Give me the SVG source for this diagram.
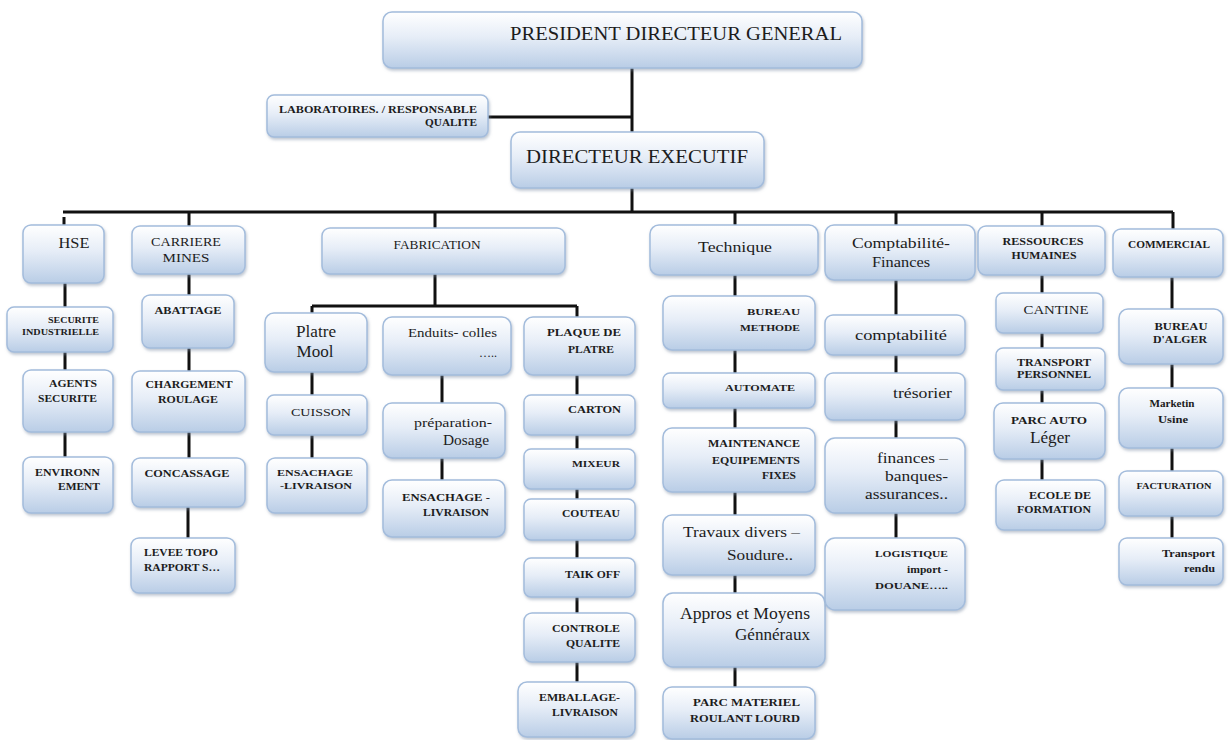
<svg xmlns="http://www.w3.org/2000/svg" width="1230" height="740" viewBox="0 0 1230 740">
<defs>
<linearGradient id="g" x1="0" y1="0" x2="0" y2="1">
<stop offset="0" stop-color="#ffffff"/>
<stop offset="0.45" stop-color="#e6edf7"/>
<stop offset="1" stop-color="#b9cde6"/>
</linearGradient>
<filter id="sh" x="-10%" y="-10%" width="130%" height="140%">
<feDropShadow dx="1" dy="2" stdDeviation="1.5" flood-color="#7d8da3" flood-opacity="0.5"/>
</filter>
<style>
.b{fill:url(#g);stroke:#a3bcdc;stroke-width:1.5;filter:url(#sh)}
.t{fill:#1c1c1c}
.s{fill:#1c1c1c;font-weight:bold}
.m{text-anchor:middle}
.e{text-anchor:end}
.c{stroke:#111;stroke-width:3;fill:none}
</style>
</defs>
<rect width="1230" height="740" fill="#ffffff"/>

<g id="connectors">
<path class="c" d="M632 68V132M488 117H632M632 188V212M63 212H1173"/>
<path class="c" d="M64 217V225M189 212V226M435 212V228M735 212V225M896 212V225M1042 212V226M1173 212V229"/>
<path class="c" d="M65 283V307M65 352V370M65 432V457"/>
<path class="c" d="M189 274V295M189 348V371M189 432V458M188 507V538"/>
<path class="c" d="M435 274V306M312 306H577M312 306V313M577 306V317"/>
<path class="c" d="M312 372V395M312 435V458"/>
<path class="c" d="M442 375V403M442 458V480"/>
<path class="c" d="M577 375V395M577 435V449M577 489V499M577 540V558M577 597V613M577 662V682"/>
<path class="c" d="M735 275V296M735 350V373M735 408V428M735 492V515M735 575V593M735 667V687"/>
<path class="c" d="M896 280V315M896 355V373M896 420V438M896 513V538"/>
<path class="c" d="M1042 275V293M1042 333V348M1042 390V403M1042 459V480"/>
<path class="c" d="M1172 277V309M1172 364V388M1172 448V471M1172 516V538"/>
</g>

<g font-family="Liberation Serif, Times New Roman, DejaVu Serif, serif">
<g id="pdg"><rect class="b" x="383" y="12" width="479" height="56" rx="9"/>
<text class="t m" x="676" y="40" font-size="18" textLength="332" lengthAdjust="spacingAndGlyphs">PRESIDENT DIRECTEUR GENERAL</text></g>

<g id="labo"><rect class="b" x="267" y="95" width="221" height="42" rx="7"/>
<text class="s e" x="477" y="113" font-size="10" textLength="198" lengthAdjust="spacingAndGlyphs">LABORATOIRES. / RESPONSABLE</text>
<text class="s e" x="477" y="126" font-size="10" textLength="52" lengthAdjust="spacingAndGlyphs">QUALITE</text></g>

<g id="de"><rect class="b" x="511" y="132" width="253" height="56" rx="9"/>
<text class="t m" x="637" y="163" font-size="19" textLength="222" lengthAdjust="spacingAndGlyphs">DIRECTEUR EXECUTIF</text></g>

<g id="hse"><rect class="b" x="23" y="225" width="81" height="58" rx="8"/>
<text class="t m" x="74" y="248" font-size="15" textLength="31" lengthAdjust="spacingAndGlyphs">HSE</text></g>

<g id="securite-industrielle"><rect class="b" x="7" y="307" width="106" height="45" rx="7"/>
<text class="s e" x="99" y="323" font-size="8" textLength="51" lengthAdjust="spacingAndGlyphs">SECURITE</text>
<text class="s e" x="99" y="335" font-size="8" textLength="77" lengthAdjust="spacingAndGlyphs">INDUSTRIELLE</text></g>

<g id="agents-securite"><rect class="b" x="23" y="370" width="90" height="62" rx="8"/>
<text class="s e" x="97" y="387" font-size="10" textLength="48" lengthAdjust="spacingAndGlyphs">AGENTS</text>
<text class="s e" x="97" y="402" font-size="10" textLength="59" lengthAdjust="spacingAndGlyphs">SECURITE</text></g>

<g id="environnement"><rect class="b" x="23" y="457" width="90" height="56" rx="8"/>
<text class="s e" x="100" y="476" font-size="10" textLength="65" lengthAdjust="spacingAndGlyphs">ENVIRONN</text>
<text class="s e" x="100" y="490" font-size="10" textLength="42" lengthAdjust="spacingAndGlyphs">EMENT</text></g>

<g id="carriere-mines"><rect class="b" x="132" y="226" width="113" height="48" rx="8"/>
<text class="t m" x="186" y="246" font-size="12" textLength="70" lengthAdjust="spacingAndGlyphs">CARRIERE</text>
<text class="t m" x="186" y="262" font-size="12" textLength="47" lengthAdjust="spacingAndGlyphs">MINES</text></g>

<g id="abattage"><rect class="b" x="142" y="295" width="92" height="53" rx="8"/>
<text class="s m" x="188" y="314" font-size="10" textLength="67" lengthAdjust="spacingAndGlyphs">ABATTAGE</text></g>

<g id="chargement-roulage"><rect class="b" x="132" y="371" width="113" height="61" rx="8"/>
<text class="s m" x="189" y="388" font-size="10" textLength="87" lengthAdjust="spacingAndGlyphs">CHARGEMENT</text>
<text class="s m" x="188" y="403" font-size="10" textLength="60" lengthAdjust="spacingAndGlyphs">ROULAGE</text></g>

<g id="concassage"><rect class="b" x="132" y="458" width="113" height="49" rx="8"/>
<text class="s m" x="187" y="477" font-size="10" textLength="85" lengthAdjust="spacingAndGlyphs">CONCASSAGE</text></g>

<g id="levee-topo"><rect class="b" x="131" y="538" width="104" height="55" rx="8"/>
<text class="s" x="144" y="556" font-size="10" textLength="74" lengthAdjust="spacingAndGlyphs">LEVEE TOPO</text>
<text class="s" x="144" y="571" font-size="10" textLength="76" lengthAdjust="spacingAndGlyphs">RAPPORT S…</text></g>

<g id="fabrication"><rect class="b" x="322" y="228" width="243" height="46" rx="8"/>
<text class="t m" x="437" y="249" font-size="12" textLength="87" lengthAdjust="spacingAndGlyphs">FABRICATION</text></g>

<g id="platre-mool"><rect class="b" x="265" y="313" width="102" height="59" rx="9"/>
<text class="t m" x="316" y="337" font-size="17" textLength="40" lengthAdjust="spacingAndGlyphs">Platre</text>
<text class="t m" x="315" y="357" font-size="17" textLength="37" lengthAdjust="spacingAndGlyphs">Mool</text></g>

<g id="cuisson"><rect class="b" x="267" y="395" width="100" height="40" rx="7"/>
<text class="t m" x="321" y="416" font-size="11" textLength="60" lengthAdjust="spacingAndGlyphs">CUISSON</text></g>

<g id="ensachage-1"><rect class="b" x="267" y="458" width="100" height="55" rx="8"/>
<text class="s m" x="315" y="476" font-size="9" textLength="76" lengthAdjust="spacingAndGlyphs">ENSACHAGE</text>
<text class="s m" x="316" y="489" font-size="9" textLength="72" lengthAdjust="spacingAndGlyphs">-LIVRAISON</text></g>

<g id="enduits-colles"><rect class="b" x="383" y="317" width="128" height="58" rx="9"/>
<text class="t e" x="497" y="337" font-size="12" textLength="89" lengthAdjust="spacingAndGlyphs">Enduits- colles</text>
<text class="t e" x="497" y="357" font-size="12">…..</text></g>

<g id="preparation-dosage"><rect class="b" x="383" y="403" width="122" height="55" rx="9"/>
<text class="t e" x="492" y="427" font-size="12" textLength="78" lengthAdjust="spacingAndGlyphs">préparation-</text>
<text class="t e" x="489" y="445" font-size="14" textLength="46" lengthAdjust="spacingAndGlyphs">Dosage</text></g>

<g id="ensachage-2"><rect class="b" x="383" y="480" width="122" height="57" rx="9"/>
<text class="s e" x="490" y="501" font-size="10" textLength="88" lengthAdjust="spacingAndGlyphs">ENSACHAGE  -</text>
<text class="s e" x="489" y="516" font-size="10" textLength="66" lengthAdjust="spacingAndGlyphs">LIVRAISON</text></g>

<g id="plaque-de-platre"><rect class="b" x="524" y="317" width="111" height="58" rx="9"/>
<text class="s e" x="621" y="336" font-size="10" textLength="74" lengthAdjust="spacingAndGlyphs">PLAQUE  DE</text>
<text class="s e" x="614" y="353" font-size="10" textLength="46" lengthAdjust="spacingAndGlyphs">PLATRE</text></g>

<g id="carton"><rect class="b" x="524" y="395" width="111" height="40" rx="7"/>
<text class="s e" x="621" y="413" font-size="10" textLength="53" lengthAdjust="spacingAndGlyphs">CARTON</text></g>

<g id="mixeur"><rect class="b" x="524" y="449" width="111" height="40" rx="7"/>
<text class="s e" x="620" y="467" font-size="9" textLength="48" lengthAdjust="spacingAndGlyphs">MIXEUR</text></g>

<g id="couteau"><rect class="b" x="524" y="499" width="111" height="41" rx="7"/>
<text class="s e" x="620" y="517" font-size="10" textLength="58" lengthAdjust="spacingAndGlyphs">COUTEAU</text></g>

<g id="taik-off"><rect class="b" x="524" y="558" width="111" height="39" rx="7"/>
<text class="s e" x="620" y="578" font-size="10" textLength="55" lengthAdjust="spacingAndGlyphs">TAIK OFF</text></g>

<g id="controle-qualite"><rect class="b" x="524" y="613" width="111" height="49" rx="8"/>
<text class="s e" x="620" y="632" font-size="10" textLength="68" lengthAdjust="spacingAndGlyphs">CONTROLE</text>
<text class="s e" x="620" y="647" font-size="10" textLength="54" lengthAdjust="spacingAndGlyphs">QUALITE</text></g>

<g id="emballage-livraison"><rect class="b" x="518" y="682" width="117" height="55" rx="9"/>
<text class="s e" x="620" y="701" font-size="10" textLength="81" lengthAdjust="spacingAndGlyphs">EMBALLAGE-</text>
<text class="s e" x="618" y="716" font-size="10" textLength="66" lengthAdjust="spacingAndGlyphs">LIVRAISON</text></g>

<g id="technique"><rect class="b" x="650" y="225" width="168" height="50" rx="9"/>
<text class="t m" x="735" y="252" font-size="15" textLength="74" lengthAdjust="spacingAndGlyphs">Technique</text></g>

<g id="bureau-methode"><rect class="b" x="663" y="296" width="152" height="54" rx="9"/>
<text class="s e" x="800" y="315" font-size="9" textLength="53" lengthAdjust="spacingAndGlyphs">BUREAU</text>
<text class="s e" x="800" y="331" font-size="9" textLength="60" lengthAdjust="spacingAndGlyphs">METHODE</text></g>

<g id="automate"><rect class="b" x="663" y="373" width="152" height="35" rx="7"/>
<text class="s e" x="795" y="391" font-size="9" textLength="70" lengthAdjust="spacingAndGlyphs">AUTOMATE</text></g>

<g id="maintenance"><rect class="b" x="663" y="428" width="152" height="64" rx="9"/>
<text class="s e" x="800" y="447" font-size="9.5" textLength="92" lengthAdjust="spacingAndGlyphs">MAINTENANCE</text>
<text class="s e" x="800" y="464" font-size="9.5" textLength="88" lengthAdjust="spacingAndGlyphs">EQUIPEMENTS</text>
<text class="s e" x="796" y="479" font-size="9.5" textLength="34" lengthAdjust="spacingAndGlyphs">FIXES</text></g>

<g id="travaux-divers"><rect class="b" x="663" y="515" width="152" height="60" rx="9"/>
<text class="t e" x="800" y="537" font-size="15" textLength="117" lengthAdjust="spacingAndGlyphs">Travaux divers –</text>
<text class="t e" x="793" y="560" font-size="15" textLength="66" lengthAdjust="spacingAndGlyphs">Soudure..</text></g>

<g id="appros"><rect class="b" x="663" y="593" width="162" height="74" rx="10"/>
<text class="t e" x="810" y="619" font-size="16" textLength="130" lengthAdjust="spacingAndGlyphs">Appros  et Moyens</text>
<text class="t e" x="810" y="640" font-size="16" textLength="75" lengthAdjust="spacingAndGlyphs">Génnéraux</text></g>

<g id="parc-materiel"><rect class="b" x="663" y="687" width="152" height="52" rx="9"/>
<text class="s e" x="800" y="706" font-size="9.5" textLength="107" lengthAdjust="spacingAndGlyphs">PARC   MATERIEL</text>
<text class="s e" x="800" y="722" font-size="9.5" textLength="110" lengthAdjust="spacingAndGlyphs">ROULANT  LOURD</text></g>

<g id="comptabilite-finances"><rect class="b" x="825" y="225" width="150" height="55" rx="9"/>
<text class="t m" x="901" y="248" font-size="15" textLength="98" lengthAdjust="spacingAndGlyphs">Comptabilité-</text>
<text class="t m" x="901" y="267" font-size="15" textLength="58" lengthAdjust="spacingAndGlyphs">Finances</text></g>

<g id="comptabilite"><rect class="b" x="825" y="315" width="140" height="40" rx="8"/>
<text class="t m" x="901" y="340" font-size="15" textLength="92" lengthAdjust="spacingAndGlyphs">comptabilité</text></g>

<g id="tresorier"><rect class="b" x="825" y="373" width="140" height="47" rx="8"/>
<text class="t e" x="952" y="398" font-size="15" textLength="59" lengthAdjust="spacingAndGlyphs">trésorier</text></g>

<g id="finances"><rect class="b" x="825" y="438" width="140" height="75" rx="10"/>
<text class="t e" x="948" y="463" font-size="15" textLength="71" lengthAdjust="spacingAndGlyphs">finances –</text>
<text class="t e" x="948" y="481" font-size="15" textLength="63" lengthAdjust="spacingAndGlyphs">banques-</text>
<text class="t e" x="948" y="499" font-size="15" textLength="83" lengthAdjust="spacingAndGlyphs">assurances..</text></g>

<g id="logistique"><rect class="b" x="825" y="538" width="140" height="72" rx="10"/>
<text class="s e" x="948" y="557" font-size="9" textLength="73" lengthAdjust="spacingAndGlyphs">LOGISTIQUE</text>
<text class="s e" x="948" y="573" font-size="10" textLength="41" lengthAdjust="spacingAndGlyphs">import -</text>
<text class="s e" x="948" y="589" font-size="9" textLength="73" lengthAdjust="spacingAndGlyphs">DOUANE…..</text></g>

<g id="ressources-humaines"><rect class="b" x="978" y="226" width="127" height="49" rx="8"/>
<text class="s m" x="1043" y="245" font-size="9.5" textLength="81" lengthAdjust="spacingAndGlyphs">RESSOURCES</text>
<text class="s m" x="1044" y="259" font-size="9.5" textLength="65" lengthAdjust="spacingAndGlyphs">HUMAINES</text></g>

<g id="cantine"><rect class="b" x="996" y="293" width="107" height="40" rx="7"/>
<text class="t m" x="1056" y="314" font-size="12" textLength="65" lengthAdjust="spacingAndGlyphs">CANTINE</text></g>

<g id="transport-personnel"><rect class="b" x="996" y="348" width="109" height="42" rx="7"/>
<text class="s m" x="1054" y="366" font-size="9.5" textLength="74" lengthAdjust="spacingAndGlyphs">TRANSPORT</text>
<text class="s m" x="1054" y="378" font-size="9.5" textLength="74" lengthAdjust="spacingAndGlyphs">PERSONNEL</text></g>

<g id="parc-auto"><rect class="b" x="994" y="403" width="111" height="56" rx="9"/>
<text class="s m" x="1049" y="424" font-size="10" textLength="76" lengthAdjust="spacingAndGlyphs">PARC   AUTO</text>
<text class="t m" x="1050" y="443" font-size="16" textLength="40" lengthAdjust="spacingAndGlyphs">Léger</text></g>

<g id="ecole-formation"><rect class="b" x="996" y="480" width="109" height="50" rx="8"/>
<text class="s e" x="1091" y="499" font-size="10" textLength="62" lengthAdjust="spacingAndGlyphs">ECOLE  DE</text>
<text class="s e" x="1091" y="513" font-size="10" textLength="74" lengthAdjust="spacingAndGlyphs">FORMATION</text></g>

<g id="commercial"><rect class="b" x="1113" y="229" width="110" height="48" rx="8"/>
<text class="s m" x="1169" y="248" font-size="9.5" textLength="82" lengthAdjust="spacingAndGlyphs">COMMERCIAL</text></g>

<g id="bureau-alger"><rect class="b" x="1119" y="309" width="104" height="55" rx="9"/>
<text class="s m" x="1181" y="330" font-size="10" textLength="53" lengthAdjust="spacingAndGlyphs">BUREAU</text>
<text class="s m" x="1180" y="343" font-size="10" textLength="54" lengthAdjust="spacingAndGlyphs">D'ALGER</text></g>

<g id="marketin-usine"><rect class="b" x="1119" y="388" width="104" height="60" rx="9"/>
<text class="s m" x="1172" y="407" font-size="10" textLength="45" lengthAdjust="spacingAndGlyphs">Marketin</text>
<text class="s m" x="1173" y="423" font-size="10" textLength="30" lengthAdjust="spacingAndGlyphs">Usine</text></g>

<g id="facturation"><rect class="b" x="1119" y="471" width="104" height="45" rx="8"/>
<text class="s m" x="1174" y="489" font-size="8.5" textLength="75" lengthAdjust="spacingAndGlyphs">FACTURATION</text></g>

<g id="transport-rendu"><rect class="b" x="1119" y="538" width="104" height="47" rx="8"/>
<text class="s e" x="1215" y="557" font-size="10" textLength="53" lengthAdjust="spacingAndGlyphs">Transport</text>
<text class="s e" x="1215" y="572" font-size="10" textLength="31" lengthAdjust="spacingAndGlyphs">rendu</text></g>
</g>
</svg>
